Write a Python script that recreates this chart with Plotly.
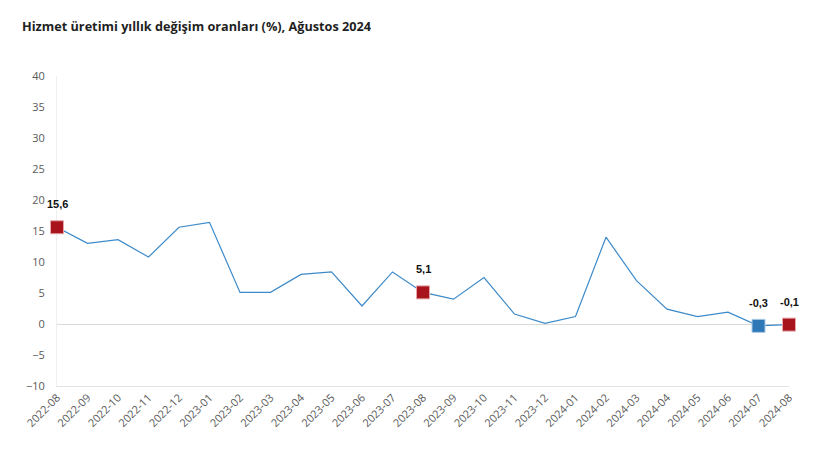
import plotly.graph_objects as go

months = ["2022-08","2022-09","2022-10","2022-11","2022-12","2023-01","2023-02","2023-03",
          "2023-04","2023-05","2023-06","2023-07","2023-08","2023-09","2023-10","2023-11",
          "2023-12","2024-01","2024-02","2024-03","2024-04","2024-05","2024-06","2024-07","2024-08"]
values = [15.6, 13.0, 13.6, 10.8, 15.6, 16.4, 5.1, 5.1, 8.0, 8.4, 2.9, 8.4, 5.1, 4.0, 7.5,
          1.6, 0.1, 1.2, 14.0, 7.0, 2.4, 1.2, 1.9, -0.3, -0.1]
red_idx = [0, 12, 24]
blue_idx = [23]
yticks = [-10, -5, 0, 5, 10, 15, 20, 25, 30, 35, 40]

RED = "#A8141C"
BLUE = "#2E78B7"
LINE = "#3D8AC9"

def fmt(v):
    return f"{v:.1f}".replace(".", ",")

fig = go.Figure()
fig.add_trace(go.Scatter(x=months, y=values, mode="lines",
                         line=dict(color=LINE, width=1.2), hoverinfo="skip", cliponaxis=False))
fig.add_trace(go.Scatter(x=[months[i] for i in red_idx], y=[values[i] for i in red_idx],
                         mode="markers", marker=dict(symbol="square", size=13, color=RED,
                         line=dict(color="#E6A6AA", width=1)), cliponaxis=False))
fig.add_trace(go.Scatter(x=[months[i] for i in blue_idx], y=[values[i] for i in blue_idx],
                         mode="markers", marker=dict(symbol="square", size=13, color=BLUE,
                         line=dict(color="#A9C9E6", width=1)), cliponaxis=False))

for i in red_idx + blue_idx:
    fig.add_annotation(x=months[i], y=values[i], text=f"<b>{fmt(values[i])}</b>",
                       showarrow=False, yshift=23,
                       font=dict(family="Liberation Sans, Arial", size=11, color="#111111"))

fig.update_layout(
    width=816, height=461,
    margin=dict(l=57, r=27, t=76, b=75),
    paper_bgcolor="white", plot_bgcolor="white",
    showlegend=False,
    title=dict(text="<b>Hizmet üretimi yıllık değişim oranları (%), Ağustos 2024</b>",
               x=0, xref="container", xanchor="left", y=1, yref="container", yanchor="top",
               pad=dict(t=22, l=22),
               font=dict(family="Open Sans, Noto Sans, sans-serif", size=12.7, color="#1F1F1F")),
    font=dict(family="Open Sans, Noto Sans, sans-serif", size=11, color="#595959"),
)
fig.update_xaxes(type="category", range=[0, len(months) - 1], showgrid=False,
                 showline=True, linecolor="#E3E3E3", linewidth=1, layer="below traces",
                 tickangle=-45, ticks="", tickfont=dict(size=11, color="#595959"))
fig.update_yaxes(range=[-10, 40], tickvals=yticks, showgrid=False,
                 zeroline=True, zerolinecolor="#DADADA", zerolinewidth=1,
                 showline=True, linecolor="#EFEFEF", linewidth=1, layer="below traces",
                 ticks="", ticklabelstandoff=9, tickfont=dict(size=11, color="#595959"))

fig.write_html("out.html")
